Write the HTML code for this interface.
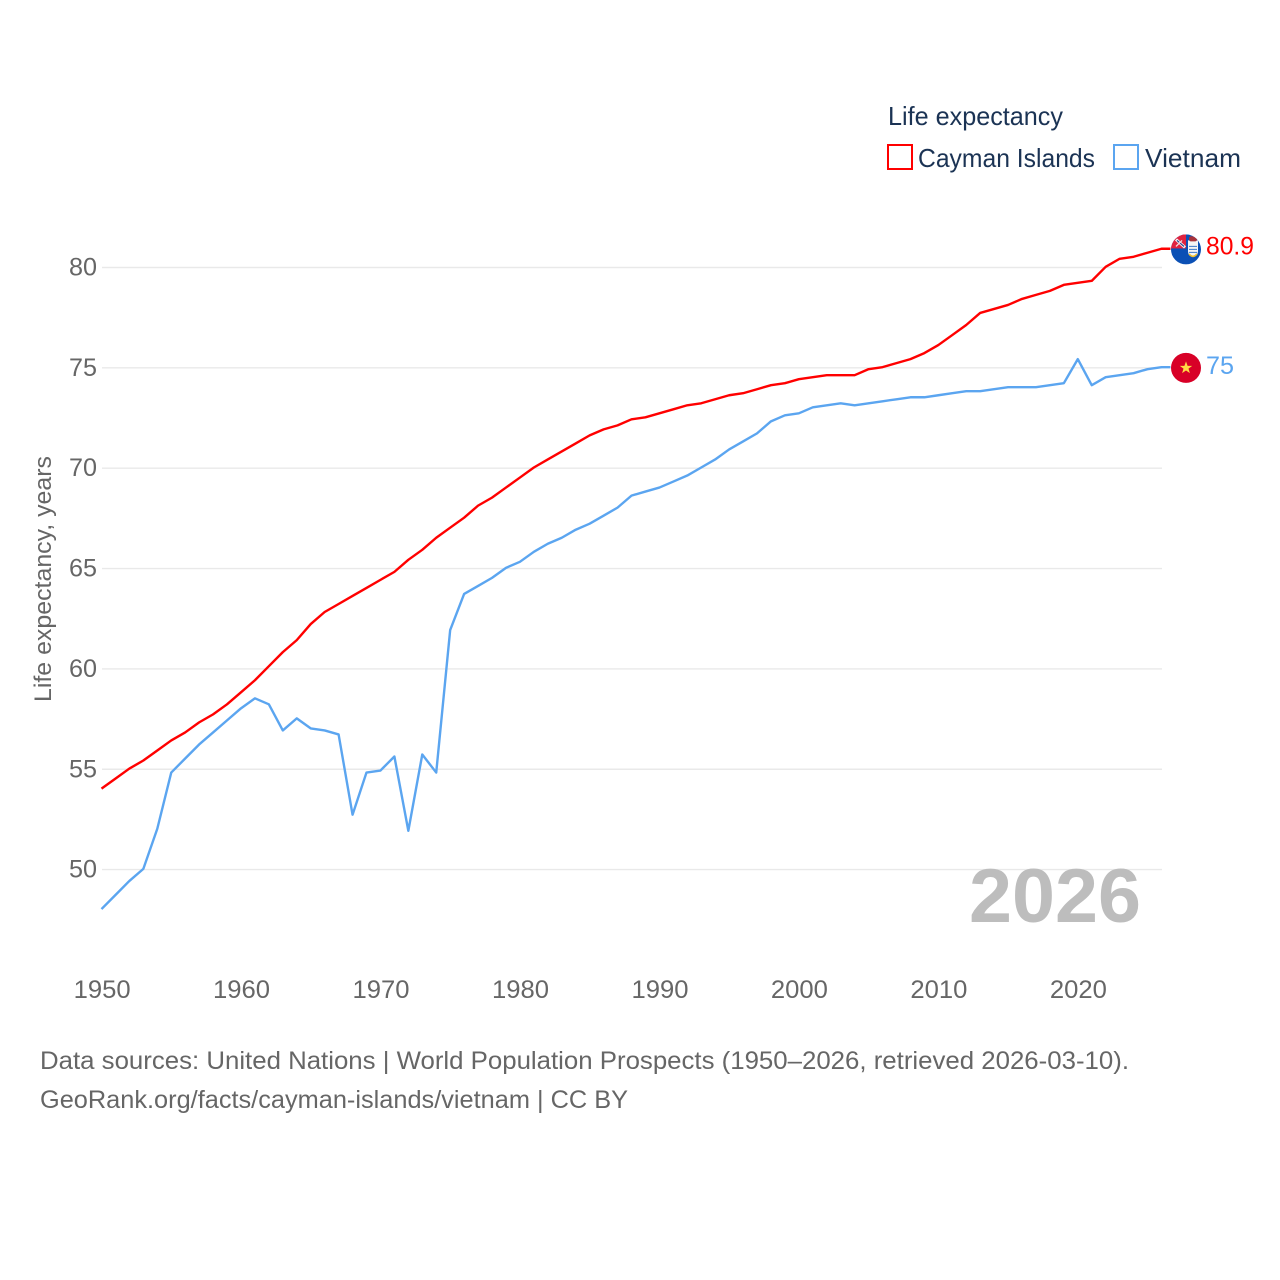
<!DOCTYPE html>
<html lang="en">
<head>
<meta charset="utf-8">
<title>Life expectancy: Cayman Islands vs Vietnam</title>
<style>
html,body{margin:0;padding:0;background:#fff;}
svg{display:block;}
text{font-family:"Liberation Sans",sans-serif;}
</style>
</head>
<body>
<svg id="chart" xmlns="http://www.w3.org/2000/svg" width="1280" height="1280" viewBox="0 0 1280 1280">
  <rect x="0" y="0" width="1280" height="1280" fill="#ffffff"/>
  <g id="grid"></g>
  <g id="yticks"></g>
  <g id="xticks"></g>
  <text transform="translate(51,579) rotate(-90)" text-anchor="middle" font-size="24" fill="#666666" textLength="246" lengthAdjust="spacingAndGlyphs">Life expectancy, years</text>
  <text x="969" y="922" font-size="76" font-weight="700" fill="#bdbdbd" textLength="172" lengthAdjust="spacingAndGlyphs">2026</text>
  <path id="line-cayman" fill="none" stroke="#ff0000" stroke-width="2.4" stroke-linejoin="round"/>
  <path id="line-vietnam" fill="none" stroke="#5ba5f0" stroke-width="2.4" stroke-linejoin="round"/>

  <g id="flag-cayman">
    <clipPath id="clip-cayman"><circle cx="0" cy="0" r="15"/></clipPath>
    <g clip-path="url(#clip-cayman)">
      <rect x="-15" y="-15" width="30" height="30" fill="#0b50b5"/>
      <rect x="-15" y="-15" width="15" height="14" fill="#e0233f"/>
      <path d="M-10,-10 L-1,-2" stroke="#f4f4f4" stroke-width="3"/>
      <path d="M-9,-9 L-2,-3" stroke="#27408b" stroke-width="1.2"/>
      <path d="M-10,-3 L-4,-9" stroke="#f0d8dc" stroke-width="1.4"/>
      <path d="M2,-9 H12 V2 Q12,6 7,7.5 Q2,6 2,2 Z" fill="#f5f5f5"/>
      <rect x="3" y="-13" width="8" height="5" rx="2" fill="#a8323a"/>
      <path d="M3,-3 H11 M3,0 H11 M3,3 H11" stroke="#3a78c8" stroke-width="1"/>
      <path d="M3,4.5 Q7,9.5 11,4.5" stroke="#f2c230" stroke-width="1.6" fill="none"/>
    </g>
  </g>
  <g id="flag-vietnam">
    <circle cx="0" cy="0" r="15" fill="#d80027"/>
    <polygon points="0,-6.5 1.6,-2 6.2,-2 2.5,0.8 3.9,5.3 0,2.6 -3.9,5.3 -2.5,0.8 -6.2,-2 -1.6,-2" fill="#ffda44"/>
  </g>
  <text id="value-cayman" x="1206" font-size="25" fill="#ff0000" textLength="48" lengthAdjust="spacingAndGlyphs"></text>
  <text id="value-vietnam" x="1206" font-size="25" fill="#5ba5f0" textLength="28" lengthAdjust="spacingAndGlyphs"></text>

  <g>
    <text x="888" y="125" font-size="26" fill="#1b3354" textLength="175" lengthAdjust="spacingAndGlyphs">Life expectancy</text>
    <rect x="888" y="145" width="24" height="24" fill="none" stroke="#ff0000" stroke-width="2"/>
    <text x="918" y="167" font-size="26" fill="#1b3354" textLength="177" lengthAdjust="spacingAndGlyphs">Cayman Islands</text>
    <rect x="1114" y="145" width="24" height="24" fill="none" stroke="#5ba5f0" stroke-width="2"/>
    <text x="1145" y="167" font-size="26" fill="#1b3354" textLength="96" lengthAdjust="spacingAndGlyphs">Vietnam</text>
  </g>

  <text x="40" y="1069" font-size="25" fill="#666666" textLength="1089" lengthAdjust="spacingAndGlyphs">Data sources: United Nations | World Population Prospects (1950–2026, retrieved 2026-03-10).</text>
  <text x="40" y="1108" font-size="25" fill="#666666" textLength="588" lengthAdjust="spacingAndGlyphs">GeoRank.org/facts/cayman-islands/vietnam | CC BY</text>
</svg>
<script>
const startYear = 1950;
const yTickValues = [50, 55, 60, 65, 70, 75, 80];
const xTickValues = [1950, 1960, 1970, 1980, 1990, 2000, 2010, 2020];
const caymanValues = [54.0,54.5,55.0,55.4,55.9,56.4,56.8,57.3,57.7,58.2,58.8,59.4,60.1,60.8,61.4,62.2,62.8,63.2,63.6,64.0,64.4,64.8,65.4,65.9,66.5,67.0,67.5,68.1,68.5,69.0,69.5,70.0,70.4,70.8,71.2,71.6,71.9,72.1,72.4,72.5,72.7,72.9,73.1,73.2,73.4,73.6,73.7,73.9,74.1,74.2,74.4,74.5,74.6,74.6,74.6,74.9,75.0,75.2,75.4,75.7,76.1,76.6,77.1,77.7,77.9,78.1,78.4,78.6,78.8,79.1,79.2,79.3,80.0,80.4,80.5,80.7,80.9];
const vietnamValues = [48.0,48.7,49.4,50.0,52.0,54.8,55.5,56.2,56.8,57.4,58.0,58.5,58.2,56.9,57.5,57.0,56.9,56.7,52.7,54.8,54.9,55.6,51.9,55.7,54.8,61.9,63.7,64.1,64.5,65.0,65.3,65.8,66.2,66.5,66.9,67.2,67.6,68.0,68.6,68.8,69.0,69.3,69.6,70.0,70.4,70.9,71.3,71.7,72.3,72.6,72.7,73.0,73.1,73.2,73.1,73.2,73.3,73.4,73.5,73.5,73.6,73.7,73.8,73.8,73.9,74.0,74.0,74.0,74.1,74.2,75.4,74.1,74.5,74.6,74.7,74.9,75.0];

const NS = 'http://www.w3.org/2000/svg';
function xScale(year) { return 101.5 + (year - 1950) * 13.947; }
function yScale(v) { return 267.5 + (80 - v) * 20.07; }

const grid = document.getElementById('grid');
const yticks = document.getElementById('yticks');
const xticks = document.getElementById('xticks');

yTickValues.forEach(function (v) {
  const l = document.createElementNS(NS, 'line');
  
  
  l.setAttribute('x1', 102);
  l.setAttribute('x2', 1162);
  l.setAttribute('y1', yScale(v));
  l.setAttribute('y2', yScale(v));
  l.setAttribute('stroke', '#e9e9e9');
  l.setAttribute('stroke-width', '1.4');
  grid.appendChild(l);

  const t = document.createElementNS(NS, 'text');
  
  
  t.setAttribute('x', 97);
  t.setAttribute('y', yScale(v) + 8);
  t.setAttribute('text-anchor', 'end');
  t.setAttribute('font-size', '25');
  t.setAttribute('fill', '#666666');
  t.setAttribute('textLength', '28');
  t.setAttribute('lengthAdjust', 'spacingAndGlyphs');
  t.textContent = String(v);
  yticks.appendChild(t);
});

xTickValues.forEach(function (y) {
  const t = document.createElementNS(NS, 'text');
  
  
  t.setAttribute('x', xScale(y) + 0.6);
  t.setAttribute('y', 998);
  t.setAttribute('text-anchor', 'middle');
  t.setAttribute('font-size', '25');
  t.setAttribute('fill', '#666666');
  t.setAttribute('textLength', '57');
  t.setAttribute('lengthAdjust', 'spacingAndGlyphs');
  t.textContent = String(y);
  xticks.appendChild(t);
});

function linePath(values) {
  const lift = 0.7;
  let d = values.map(function (v, i) {
    return (i ? 'L' : 'M') + xScale(startYear + i).toFixed(2) + ',' + (yScale(v) - lift).toFixed(2);
  }).join('');
  const last = values[values.length - 1];
  d += 'L' + (xScale(startYear + values.length - 1) + 9).toFixed(2) + ',' + (yScale(last) - lift).toFixed(2);
  return d;
}
document.getElementById('line-cayman').setAttribute('d', linePath(caymanValues));
document.getElementById('line-vietnam').setAttribute('d', linePath(vietnamValues));

const lastCayman = caymanValues[caymanValues.length - 1];
const lastVietnam = vietnamValues[vietnamValues.length - 1];
document.getElementById('flag-cayman').setAttribute('transform', 'translate(1186,' + yScale(lastCayman) + ')');
document.getElementById('flag-vietnam').setAttribute('transform', 'translate(1186,' + yScale(lastVietnam) + ')');
const vc = document.getElementById('value-cayman');
vc.setAttribute('y', yScale(lastCayman) + 5);
vc.textContent = String(lastCayman);
const vv = document.getElementById('value-vietnam');
vv.setAttribute('y', yScale(lastVietnam) + 6);
vv.textContent = String(lastVietnam);
</script>
</body>
</html>
